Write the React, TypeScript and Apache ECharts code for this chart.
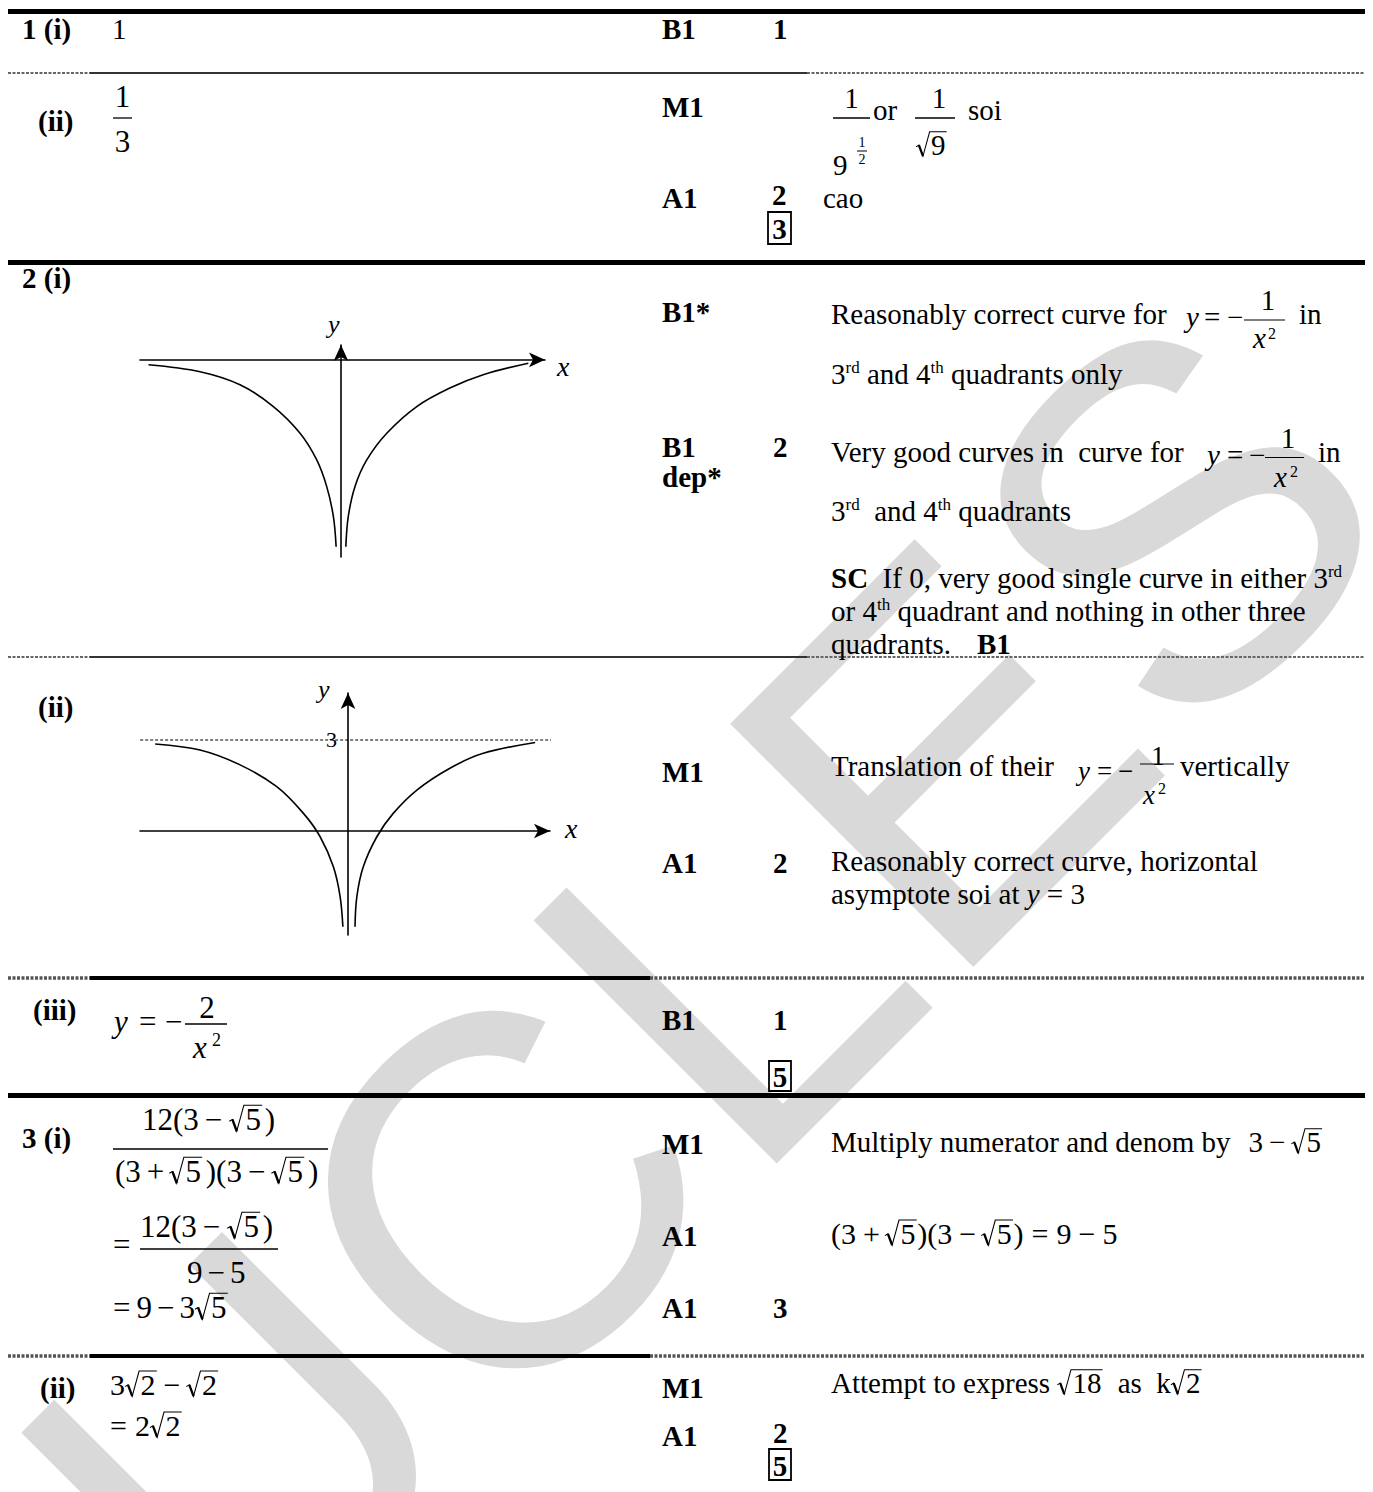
import React, { useEffect, useRef } from "react";
import * as echarts from "echarts";

const SERIF = '"Liberation Serif", "Times New Roman", serif';
const SANS = '"Liberation Sans", Arial, sans-serif';
const FS = 29;
const INK = "#000";

// ---- values (sketch units) ----
const g1XRange = [-6.63, 6.73];
const g1YRange = [-6.5, 0.49];
const g1LeftBranch = [
  [-6.35, -0.16], [-4.65, -0.39], [-3.33, -0.82], [-2.23, -1.54], [-1.35, -2.42],
  [-0.8, -3.3], [-0.47, -4.18], [-0.25, -5.17], [-0.16, -6.16],
];
const g1RightBranch = [
  [0.16, -6.16], [0.24, -5.17], [0.46, -4.18], [0.85, -3.3], [1.51, -2.42],
  [2.5, -1.54], [3.59, -0.93], [4.69, -0.49], [6.18, -0.11],
];
const g2XRange = [-6.86, 6.66];
const g2YRange = [-3.43, 4.55];
const g2LeftBranch = [
  [-6.36, 2.87], [-4.88, 2.67], [-3.56, 2.18], [-2.35, 1.46], [-1.47, 0.58],
  [-0.92, -0.19], [-0.48, -1.19], [-0.26, -2.17], [-0.17, -3.16],
];
const g2RightBranch = [
  [0.23, -3.16], [0.29, -2.17], [0.5, -1.19], [0.95, -0.19], [1.49, 0.58],
  [2.27, 1.35], [3.36, 2.07], [4.46, 2.56], [6.17, 2.92],
];
const g2Asymptote = 3;
const g2AsymptoteSpan = [-7.02, 6.76];
const watermarkText = "UCLES";

type Seg = { t?: string; b?: boolean; i?: boolean; s?: number; dy?: number; gap?: number; sqrt?: Seg[] };

let measureCtx: CanvasRenderingContext2D | null = null;
function measure(text: string, size: number, bold?: boolean, italic?: boolean) {
  if (!measureCtx) measureCtx = document.createElement("canvas").getContext("2d");
  measureCtx!.font = `${italic ? "italic " : ""}${bold ? "bold " : ""}${size}px ${SERIF}`;
  return measureCtx!.measureText(text).width;
}

function buildGraphics() {
  const els: any[] = [];
  const text = (str: string, x: number, base: number, size = FS, bold = false, italic = false, align = "left") => {
    els.push({
      type: "text", z: 30, x, y: base - 0.34 * size,
      style: {
        text: str, fontSize: size, fontFamily: SERIF, fontWeight: bold ? "bold" : "normal",
        fontStyle: italic ? "italic" : "normal", fill: INK, align, verticalAlign: "middle",
      },
    });
  };
  const hline = (x1: number, x2: number, y: number, w = 1.3, color = INK, dash?: number[]) => {
    els.push({ type: "line", z: 25, shape: { x1, y1: y, x2, y2: y }, style: { stroke: color, lineWidth: w, lineDash: dash } });
  };
  const box = (x: number, y: number, w: number, h: number) => {
    els.push({ type: "rect", z: 25, shape: { x, y, width: w, height: h }, style: { fill: "none", stroke: INK, lineWidth: 1.8 } });
  };
  const radical = (x: number, base: number, s: number, innerW: number) => {
    const top = base - 0.8 * s;
    const end = x + 0.52 * s + innerW + 0.04 * s;
    els.push({
      type: "polyline", z: 30,
      shape: { points: [[x, base - 0.28 * s], [x + 0.1 * s, base - 0.34 * s], [x + 0.24 * s, base + 0.04 * s], [x + 0.47 * s, top], [end, top]] },
      style: { stroke: INK, lineWidth: s / 28, fill: "none" },
    });
    els.push({
      type: "line", z: 30,
      shape: { x1: x + 0.1 * s, y1: base - 0.34 * s, x2: x + 0.24 * s, y2: base + 0.04 * s },
      style: { stroke: INK, lineWidth: s / 13 },
    });
  };
  const run = (segs: Seg[], x: number, base: number, size = FS, draw = true): number => {
    let cx = x;
    for (const sg of segs) {
      if (sg.gap !== undefined) { cx += sg.gap; continue; }
      const sz = sg.s ?? size;
      const by = base + (sg.dy ?? 0);
      if (sg.sqrt) {
        const innerW = run(sg.sqrt, 0, 0, sz, false);
        const sw = 0.52 * sz;
        if (draw) { radical(cx, by, sz, innerW); run(sg.sqrt, cx + sw, by, sz, true); }
        cx += sw + innerW + 0.06 * sz;
        continue;
      }
      const w = measure(sg.t!, sz, sg.b, sg.i);
      if (draw) text(sg.t!, cx, by, sz, !!sg.b, !!sg.i);
      cx += w;
    }
    return cx - x;
  };
  const centered = (segs: Seg[], cx: number, base: number, size = FS) => {
    const w = run(segs, 0, 0, size, false);
    run(segs, cx - w / 2, base, size);
  };
  const B = (t: string): Seg[] => [{ t, b: true }];
  const P = (t: string): Seg[] => [{ t }];

  // ---- table rules ----
  const L = 8, R = 1365;
  hline(L, R, 11.5, 5);
  hline(L, R, 262.5, 5);
  hline(L, R, 1095.5, 5);
  for (const y of [73, 657]) {
    hline(L, 90, y, 2.2, "#666", [3, 1.5]);
    hline(90, 807, y, 2.2, "#333");
    hline(807, R, y, 2.2, "#666", [3, 1.5]);
  }
  for (const y of [978, 1356]) {
    hline(L, 90, y, 3.5, "#555", [3, 1.5]);
    hline(90, 650, y, 4, INK);
    hline(650, R, y, 3.5, "#555", [3, 1.5]);
  }

  // ---- Q1 (i) ----
  run(B("1 (i)"), 22, 39);
  run(P("1"), 112, 39);
  run(B("B1"), 662, 39);
  run(B("1"), 773, 39);

  // ---- Q1 (ii) ----
  run(B("(ii)"), 38, 131);
  centered(P("1"), 122.5, 107, 31);
  hline(113, 132, 118);
  centered(P("3"), 122.5, 152, 31);
  run(B("M1"), 662, 117);
  centered(P("1"), 851.5, 108);
  hline(833, 870, 118);
  run(P("9"), 833, 175);
  centered(P("1"), 862, 147, 14);
  hline(857, 867, 151, 1);
  centered(P("2"), 862, 164, 14);
  run(P("or"), 873, 120);
  centered(P("1"), 939, 108);
  hline(915, 955, 118);
  run([{ sqrt: P("9") }], 916, 155);
  run(P("soi"), 968, 120);
  run(B("A1"), 662, 208);
  run(B("2"), 772, 205);
  box(768, 212, 23, 32);
  centered(B("3"), 779.5, 239);
  run(P("cao"), 823, 208);

  // ---- Q2 (i) ----
  run(B("2 (i)"), 22, 288);
  text("y", 328, 333, 26, false, true);
  text("x", 557, 376, 28, false, true);
  run(B("B1*"), 662, 322);
  run(P("Reasonably correct curve for"), 831, 324);
  text("y", 1186, 327, FS, false, true);
  text("=", 1204, 327);
  text("\u2212", 1227, 327);
  hline(1244, 1285, 320, 1.2);
  centered(P("1"), 1268, 310);
  text("x", 1253, 348, FS, false, true);
  text("2", 1268, 339, 16);
  run(P("in"), 1299, 324);
  run([{ t: "3" }, { t: "rd", s: 17, dy: -11 }, { t: " and 4" }, { t: "th", s: 17, dy: -11 }, { t: " quadrants only" }], 831, 384);

  run(B("B1"), 662, 457);
  run(B("dep*"), 662, 487);
  run(B("2"), 773, 457);
  run(P("Very good curves in\u00a0 curve for"), 831, 462);
  text("y", 1207, 465, FS, false, true);
  text("=", 1227, 465);
  text("\u2212", 1249, 465);
  hline(1265, 1304, 457.5, 1.2);
  centered(P("1"), 1288, 448);
  text("x", 1274, 487, FS, false, true);
  text("2", 1290, 477, 16);
  run(P("in"), 1318, 462);
  run([{ t: "3" }, { t: "rd", s: 17, dy: -11 }, { t: "\u00a0 and 4" }, { t: "th", s: 17, dy: -11 }, { t: " quadrants" }], 831, 521);
  run([{ t: "SC", b: true }, { t: "\u00a0 If 0, very good single curve in either 3" }, { t: "rd", s: 17, dy: -11 }], 831, 588);
  run([{ t: "or 4" }, { t: "th", s: 17, dy: -11 }, { t: " quadrant and nothing in other three" }], 831, 621);
  run([{ t: "quadrants." }, { gap: 26 }, { t: "B1", b: true }], 831, 654);

  // ---- Q2 (ii) ----
  run(B("(ii)"), 38, 717);
  text("y", 318, 698, 26, false, true);
  text("x", 565, 838, 28, false, true);
  centered(P("3"), 331.5, 747, 22);
  run(B("M1"), 662, 782);
  run(P("Translation of their"), 831, 776);
  text("y", 1078, 780, 27, false, true);
  text("=", 1097, 780, 27);
  text("\u2212", 1118, 780, 27);
  hline(1140, 1174, 764, 1.2);
  centered(P("1"), 1158, 765, 27);
  text("x", 1143, 804, 27, false, true);
  text("2", 1158, 794, 16);
  run(P("vertically"), 1180, 776);
  run(B("A1"), 662, 873);
  run(B("2"), 773, 873);
  run(P("Reasonably correct curve, horizontal"), 831, 871);
  run([{ t: "asymptote soi at " }, { t: "y", i: true }, { t: " = 3" }], 831, 904);

  // ---- Q2 (iii) ----
  run(B("(iii)"), 33, 1020);
  text("y", 114, 1032, 31, false, true);
  text("=", 139, 1032, 31);
  text("\u2212", 165, 1032, 31);
  hline(185, 227, 1024, 1.3);
  centered(P("2"), 207, 1018, 31);
  text("x", 193, 1058, 31, false, true);
  text("2", 212, 1046, 18);
  run(B("B1"), 662, 1030);
  run(B("1"), 773, 1030);
  box(769, 1061, 22, 30);
  centered(B("5"), 780, 1087);

  // ---- Q3 (i) ----
  run(B("3 (i)"), 22, 1148);
  const num12: Seg[] = [{ t: "12(3" }, { gap: 6 }, { t: "\u2212" }, { gap: 7 }, { sqrt: P("5") }, { gap: 2 }, { t: ")" }];
  run(num12, 142, 1130, 31);
  hline(113, 328, 1149, 1.3);
  run([{ t: "(3" }, { gap: 6 }, { t: "+" }, { gap: 5 }, { sqrt: P("5") }, { gap: 3 }, { t: ")(3" }, { gap: 6 }, { t: "\u2212" }, { gap: 6 }, { sqrt: P("5") }, { gap: 3 }, { t: ")" }], 115, 1182, 31);
  text("=", 113, 1255, 31);
  run(num12, 140, 1237, 31);
  hline(140, 278, 1249, 1.3);
  run([{ t: "9" }, { gap: 5 }, { t: "\u2212" }, { gap: 5 }, { t: "5" }], 187, 1283, 31);
  run([{ t: "=" }, { gap: 6 }, { t: "9" }, { gap: 5 }, { t: "\u2212" }, { gap: 5 }, { t: "3" }, { sqrt: P("5") }], 113, 1318, 31);

  run(B("M1"), 662, 1154);
  run([{ t: "Multiply numerator and denom by" }, { gap: 18 }, { t: "3" }, { gap: 6 }, { t: "\u2212" }, { gap: 6 }, { sqrt: P("5") }], 831, 1152);
  run(B("A1"), 662, 1246);
  run([{ t: "(3" }, { gap: 7 }, { t: "+" }, { gap: 5 }, { sqrt: P("5") }, { t: ")(3" }, { gap: 7 }, { t: "\u2212" }, { gap: 5 }, { sqrt: P("5") }, { t: ")" }, { gap: 8 }, { t: "=" }, { gap: 8 }, { t: "9" }, { gap: 7 }, { t: "\u2212" }, { gap: 7 }, { t: "5" }], 831, 1244, 30);
  run(B("A1"), 662, 1318);
  run(B("3"), 773, 1318);

  // ---- Q3 (ii) ----
  run(B("(ii)"), 40, 1398);
  run([{ t: "3" }, { sqrt: P("2") }, { gap: 6 }, { t: "\u2212" }, { gap: 6 }, { sqrt: P("2") }], 110, 1395, 30);
  run([{ t: "=" }, { gap: 8 }, { t: "2" }, { sqrt: P("2") }], 110, 1436, 30);
  run(B("M1"), 662, 1398);
  run([{ t: "Attempt to express " }, { sqrt: P("18") }, { t: "\u00a0 as\u00a0 k" }, { sqrt: P("2") }], 831, 1393);
  run(B("A1"), 662, 1446);
  run(B("2"), 773, 1443);
  box(769, 1449, 22, 31);
  centered(B("5"), 780, 1476);

  return els;
}

function buildOption() {
  const axis = (gridIndex: number, range: number[]) => ({
    gridIndex, type: "value", min: range[0], max: range[1],
    axisLine: { show: true, onZero: true, symbol: ["none", "arrow"], symbolSize: [11, 16], lineStyle: { color: INK, width: 1.6 } },
    axisTick: { show: false }, axisLabel: { show: false }, splitLine: { show: false },
  });
  const curve = (xi: number, data: number[][], extra: any = {}) => ({
    type: "line", xAxisIndex: xi, yAxisIndex: xi, data, smooth: 0.35, symbol: "none",
    lineStyle: { color: INK, width: 1.6 }, clip: false, silent: true, emphasis: { disabled: true }, z: 3, ...extra,
  });
  const watermark = {
    type: "text", z: -10, x: 114.5, y: 1580.5, rotation: Math.PI / 4,
    style: { text: watermarkText, fontSize: 500, fontFamily: SANS, fill: "#d9d9d9", align: "left", verticalAlign: "middle" },
  };
  return {
    animation: false,
    backgroundColor: "#fff",
    grid: [
      { left: 140, top: 345, width: 405, height: 212, containLabel: false },
      { left: 140, top: 693, width: 410, height: 242, containLabel: false },
    ],
    xAxis: [axis(0, g1XRange), axis(1, g2XRange)],
    yAxis: [axis(0, g1YRange), axis(1, g2YRange)],
    series: [
      curve(0, g1LeftBranch),
      curve(0, g1RightBranch),
      curve(1, g2LeftBranch),
      curve(1, g2RightBranch),
      curve(1, [[g2AsymptoteSpan[0], g2Asymptote], [g2AsymptoteSpan[1], g2Asymptote]], {
        smooth: false, lineStyle: { color: INK, width: 1, type: [3, 2] },
      }),
    ],
    graphic: { elements: [watermark, ...buildGraphics()] },
  };
}

export default function App() {
  const ref = useRef<HTMLDivElement>(null);
  useEffect(() => {
    const chart = echarts.init(ref.current!, null, { renderer: "svg", width: 1373, height: 1492 });
    chart.setOption(buildOption() as any);
    return () => chart.dispose();
  }, []);
  return <div ref={ref} style={{ position: "absolute", left: 0, top: 0, width: 1373, height: 1492, background: "#fff" }} />;
}
